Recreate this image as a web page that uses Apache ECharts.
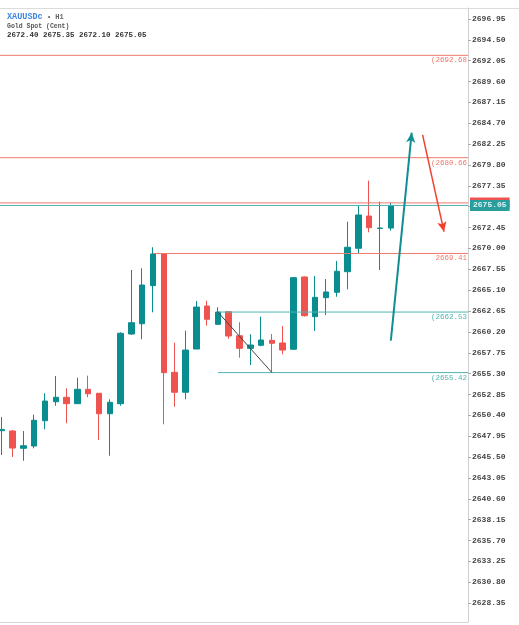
<!DOCTYPE html>
<html>
<head>
<meta charset="utf-8">
<script src="https://cdn.jsdelivr.net/npm/echarts@6/dist/echarts.min.js"></script>
<style>
html, body { margin: 0; padding: 0; background: #fff; }
#chart { width: 519px; height: 625px; }
</style>
</head>
<body>
<div id="chart"></div>
<script>
// hourly candles, index 0 = leftmost (partly cut off)
var opens = [2648.60, 2648.56, 2646.53, 2646.80, 2649.77, 2652.00, 2652.52, 2651.77, 2653.46, 2652.99, 2650.59, 2651.77, 2659.95, 2661.16, 2665.63, 2669.41, 2655.45, 2653.11, 2658.19, 2663.24, 2661.09, 2662.57, 2659.75, 2658.27, 2658.63, 2659.21, 2658.90, 2658.16, 2666.65, 2661.99, 2664.22, 2664.85, 2667.27, 2670.02, 2673.81, 2672.35, 2672.40];
var closes = [2648.75, 2646.56, 2646.83, 2649.82, 2652.08, 2652.52, 2651.77, 2653.46, 2652.94, 2650.59, 2651.93, 2660.04, 2661.28, 2665.71, 2669.35, 2655.41, 2653.11, 2658.07, 2663.12, 2661.68, 2662.53, 2659.72, 2658.27, 2658.66, 2659.25, 2658.86, 2658.07, 2666.57, 2662.10, 2664.26, 2664.89, 2667.32, 2670.14, 2673.93, 2672.44, 2672.40, 2675.05];
var lows = [2645.74, 2645.51, 2645.07, 2646.53, 2648.76, 2651.53, 2649.47, 2651.73, 2652.52, 2647.50, 2645.66, 2651.53, 2659.84, 2659.33, 2662.50, 2649.35, 2651.41, 2652.28, 2658.19, 2660.93, 2661.05, 2659.40, 2657.17, 2656.31, 2658.51, 2655.42, 2657.57, 2658.10, 2662.00, 2660.31, 2662.18, 2664.33, 2665.20, 2669.43, 2671.90, 2667.47, 2672.10];
var highs = [2650.20, 2648.68, 2648.56, 2650.48, 2652.99, 2655.02, 2653.58, 2654.82, 2655.06, 2653.00, 2652.28, 2660.15, 2667.47, 2667.67, 2670.14, 2669.41, 2658.93, 2660.34, 2663.83, 2663.87, 2663.09, 2662.60, 2661.33, 2659.92, 2661.99, 2659.95, 2660.89, 2666.65, 2666.70, 2666.77, 2666.41, 2668.53, 2673.14, 2675.10, 2677.96, 2675.49, 2675.35];

var yTicks = [2628.35, 2630.80, 2633.25, 2635.70, 2638.15, 2640.60, 2643.05, 2645.50, 2647.95, 2650.40, 2652.85, 2655.30, 2657.75, 2660.20, 2662.65, 2665.10, 2667.55, 2670.00, 2672.45, 2674.90, 2677.35, 2679.80, 2682.25, 2684.70, 2687.15, 2689.60, 2692.05, 2694.50, 2696.95];

// drawn levels: [price, start index (null = whole width), label]
var redLevels = [[2692.68, null, '(2692.68'], [2680.66, null, '(2680.66'], [2669.41, 14, '2669.41']];
var tealLevels = [[2662.53, 20, '(2662.53'], [2655.42, 20, '(2655.42']];
var bid = 2675.05, ask = 2675.35;

// trend line and arrows: [x0, y0, x1, y1]
var trendLine = [20, 2662.53, 25, 2655.42];
var upArrow = [36, 2659.17, 37.93, 2683.6];
var downArrow = [38.94, 2683.33, 40.92, 2671.97];

var xMin = -0.16, xMax = 43.14;
var yMin = 2626.13, yMax = 2698.24;

var UP = '#0a8d8f', DOWN = '#ef5350';
var RED_LINE = '#ee7a6d', TEAL_LINE = '#4fb3b3';
var FONT = 'Liberation Mono';

var candles = opens.map(function (o, i) {
  return [i, o, closes[i], lows[i], highs[i]];
});

// one horizontal level as a two-point line series, label under its right end
function levelSeries(lv, color) {
  var x0 = lv[1] == null ? xMin : lv[1];
  return {
    type: 'line',
    data: [[x0, lv[0]], [xMax, lv[0]]],
    symbol: 'none',
    silent: true,
    z: 3,
    lineStyle: { color: color, width: 1 },
    endLabel: {
      show: true, formatter: lv[2], align: 'right', verticalAlign: 'top',
      distance: 0, offset: [-1, 1],
      color: color, fontFamily: FONT, fontSize: 7.5
    }
  };
}

// current bid/ask line with its price box on the axis
function priceSeries(v, lineColor, bg) {
  return {
    type: 'line',
    data: [[xMin, v], [xMax, v]],
    symbol: 'none',
    silent: true,
    z: 3,
    lineStyle: { color: lineColor, width: 1 },
    endLabel: {
      show: true, formatter: v.toFixed(2), distance: 2,
      backgroundColor: bg, color: '#dff4f4',
      fontFamily: FONT, fontWeight: 'bold', fontSize: 8, padding: [2, 3, 1, 3]
    }
  };
}

// straight segment, optionally with an arrow head at its end
function segSeries(p, color, width, arrow) {
  return {
    type: 'line',
    data: [],
    silent: true,
    z: 4,
    markLine: {
      silent: true,
      animation: false,
      symbol: ['none', arrow ? 'arrow' : 'none'],
      symbolSize: [7, 10],
      lineStyle: { color: color, width: width, type: 'solid' },
      label: { show: false },
      data: [[{ coord: [p[0], p[1]] }, { coord: [p[2], p[3]] }]]
    }
  };
}

var series = [{
  type: 'candlestick',
  layout: 'horizontal',
  barWidth: 6,
  z: 2,
  encode: { x: 0, y: [1, 2, 3, 4] },
  data: candles,
  itemStyle: { color: UP, color0: DOWN, borderColor: UP, borderColor0: DOWN, borderWidth: 1 }
}];
redLevels.forEach(function (lv) { series.push(levelSeries(lv, RED_LINE)); });
tealLevels.forEach(function (lv) { series.push(levelSeries(lv, TEAL_LINE)); });
series.push(priceSeries(ask, RED_LINE, DOWN));
series.push(priceSeries(bid, TEAL_LINE, '#2a9d9d'));
series.push(segSeries(trendLine, '#444', 1, false));
series.push(segSeries(upArrow, '#118e93', 2, true));
series.push(segSeries(downArrow, '#f2402f', 1.5, true));

var myChart = echarts.init(document.getElementById('chart'));
myChart.setOption({
  animation: false,
  backgroundColor: '#fff',
  title: {
    left: 2,
    top: 7,
    text: '{a|XAUUSDc}{b| • H1}\n{c|Gold Spot (Cent)}\n{d|2672.40 2675.35 2672.10 2675.05}',
    textStyle: {
      rich: {
        a: { fontFamily: FONT, fontSize: 8.5, fontWeight: 'bold', color: '#3d86e0', lineHeight: 10 },
        b: { fontFamily: FONT, fontSize: 7, color: '#666', lineHeight: 10 },
        c: { fontFamily: FONT, fontSize: 6.5, color: '#555', lineHeight: 9 },
        d: { fontFamily: FONT, fontSize: 7.5, fontWeight: 'bold', color: '#333', lineHeight: 8 }
      }
    }
  },
  graphic: [{
    type: 'line', silent: true,
    shape: { x1: 0, y1: 8.5, x2: 519, y2: 8.5 },
    style: { stroke: '#dcdcdc', lineWidth: 1 }
  }],
  grid: { left: 0, right: 51, top: 8, bottom: 3, outerBoundsMode: 'none' },
  xAxis: {
    type: 'value', min: xMin, max: xMax,
    axisLine: { show: true, onZero: false, lineStyle: { color: '#d6d6d6' } },
    axisTick: { show: false }, axisLabel: { show: false }, splitLine: { show: false }
  },
  yAxis: {
    type: 'value', position: 'right', min: yMin, max: yMax, scale: true,
    axisLine: { show: true, onZero: false, lineStyle: { color: '#d0d0d0' } },
    axisTick: { show: true, length: 3, customValues: yTicks, lineStyle: { color: '#aaa' } },
    axisLabel: {
      customValues: yTicks, margin: 4,
      formatter: function (v) { return v.toFixed(2); },
      fontFamily: FONT, fontSize: 8, fontWeight: 'bold', color: '#444'
    },
    splitLine: { show: false }
  },
  series: series
});
</script>
</body>
</html>
